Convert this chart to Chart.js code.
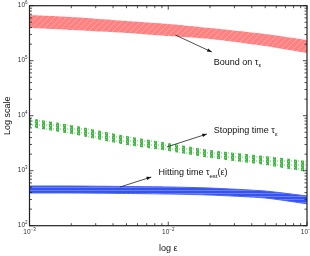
<!DOCTYPE html>
<html>
<head>
<meta charset="utf-8">
<script src="https://cdn.jsdelivr.net/npm/chart.js@4/dist/chart.umd.min.js"></script>
<style>
  body { margin: 0; background: #fff; }
  #caja { width: 310px; height: 256px; }
</style>
</head>
<body>
<div id="caja"><canvas id="grafica" width="310" height="256"></canvas></div>
<script>
// datos (eje x: epsilon, eje y: escala log)
const eps = [0.001, 0.002, 0.005, 0.01, 0.02, 0.05, 0.1];
const boundHi = [678000, 623000, 527000, 465000, 393000, 306000, 238000];
const boundLo = [393000, 361000, 319000, 281000, 248000, 185000, 138000];
const stopHi = [9080, 6780, 4270, 3190, 2380, 1850, 1500];
const stopLo = [6230, 4650, 2930, 2280, 1700, 1270, 947];
const hitHi = [527, 527, 516, 506, 484, 427, 347];
const hitLo = [393, 393, 385, 377, 361, 319, 250];

const xTicks = [-3, -2, -1];       // exponentes de 10
const yTicks = [2, 3, 4, 5, 6];

// anotaciones: flecha (desde, hasta) y texto, en coordenadas de datos
const notas = [
  { from: [0.01125, 293000], to: [0.0206, 144000], at: [0.0213, 94600], partes: [['Bound on τ', 0], ['ε', 1]] },
  { from: [0.00975, 2700], to: [0.0190, 4650], at: [0.0213, 5270], partes: [['Stopping time τ', 0], ['ε', 1]] },
  { from: [0.0045, 506], to: [0.00754, 767], at: [0.0085, 908], partes: [['Hitting time τ', 0], ['est', 1], ['(ε)', 0]] }
];

const fuente = "'Liberation Sans', Arial, sans-serif";

function patron(w, h, dibuja) {
  const c = document.createElement('canvas');
  c.width = w; c.height = h;
  const g = c.getContext('2d');
  dibuja(g);
  return g.createPattern(c, 'repeat');
}

const rojo = patron(6, 6, g => {
  g.fillStyle = '#ff8282'; g.fillRect(0, 0, 6, 6);
  g.strokeStyle = '#ffa4a4'; g.lineWidth = 1;
  g.beginPath(); g.moveTo(0, 6); g.lineTo(6, 0);
  g.moveTo(-3, 3); g.lineTo(3, -3); g.moveTo(3, 9); g.lineTo(9, 3); g.stroke();
});
const verde = patron(7, 4, g => {
  g.fillStyle = '#ffffff'; g.fillRect(0, 0, 7, 4);
  g.fillStyle = '#44b844'; g.fillRect(0, 0, 3, 4);
  g.fillStyle = '#86d486'; g.fillRect(1, 1, 1, 1); g.fillRect(0, 3, 1, 1);
  g.fillStyle = '#b0e4b0'; g.fillRect(4, 0, 1, 2);
});
const azul = patron(2, 3, g => {
  g.fillStyle = '#3652f2'; g.fillRect(0, 0, 2, 3);
  g.fillStyle = '#6a80f8'; g.fillRect(0, 1, 2, 1);
});

const puntos = arr => arr.map((v, i) => ({ x: eps[i], y: v }));
const nada = 'rgba(0,0,0,0)';

function banda(hi, lo, relleno, borde) {
  return [
    { data: puntos(hi), borderColor: borde, borderWidth: 1, pointRadius: 0, fill: false, tension: 0.2 },
    { data: puntos(lo), borderColor: borde, borderWidth: 1, pointRadius: 0, fill: '-1', backgroundColor: relleno, tension: 0.2 }
  ];
}

function potencia(g, exp, x, y, alinea) {
  const base = '10', sup = String(exp).replace('-', '−');
  g.font = '6.5px ' + fuente;
  const wb = g.measureText(base).width;
  g.font = '4.5px ' + fuente;
  const ws = g.measureText(sup).width;
  let x0 = alinea === 'right' ? x - wb - ws : x - (wb + ws) / 2;
  g.textAlign = 'left'; g.textBaseline = 'middle';
  g.font = '6.5px ' + fuente; g.fillText(base, x0, y);
  g.font = '4.5px ' + fuente; g.fillText(sup, x0 + wb, y - 3);
}

const marco = {
  id: 'marco',
  afterDraw(chart) {
    const g = chart.ctx, a = chart.chartArea;
    const sx = chart.scales.x, sy = chart.scales.y;
    g.save();
    g.strokeStyle = '#222'; g.lineWidth = 1.2;
    g.strokeRect(a.left, a.top, a.right - a.left, a.bottom - a.top);
    g.lineWidth = 0.8;
    g.beginPath();
    for (let d = -3; d <= -1; d++) {
      for (let k = 1; k <= 9; k++) {
        const v = k * Math.pow(10, d);
        if (v > 0.1 + 1e-9) continue;
        const px = sx.getPixelForValue(v), l = k === 1 ? 4 : 2.5;
        g.moveTo(px, a.bottom); g.lineTo(px, a.bottom - l);
        g.moveTo(px, a.top); g.lineTo(px, a.top + l);
      }
    }
    for (let d = 2; d <= 6; d++) {
      for (let k = 1; k <= 9; k++) {
        const v = k * Math.pow(10, d);
        if (v > 1e6 + 1) continue;
        const py = sy.getPixelForValue(v), l = k === 1 ? 4 : 2.5;
        g.moveTo(a.left, py); g.lineTo(a.left + l, py);
        g.moveTo(a.right, py); g.lineTo(a.right - l, py);
      }
    }
    g.stroke();

    g.fillStyle = '#333';
    xTicks.forEach(e => potencia(g, e, sx.getPixelForValue(Math.pow(10, e)), a.bottom + 7, 'center'));
    yTicks.forEach(e => potencia(g, e, a.left - 2, sy.getPixelForValue(Math.pow(10, e)), 'right'));

    // anotaciones
    g.fillStyle = '#111'; g.strokeStyle = '#222'; g.lineWidth = 0.8;
    notas.forEach(n => {
      const x1 = sx.getPixelForValue(n.from[0]), y1 = sy.getPixelForValue(n.from[1]);
      const x2 = sx.getPixelForValue(n.to[0]), y2 = sy.getPixelForValue(n.to[1]);
      g.beginPath(); g.moveTo(x1, y1); g.lineTo(x2, y2); g.stroke();
      const ang = Math.atan2(y2 - y1, x2 - x1);
      g.beginPath();
      g.moveTo(x2, y2);
      g.lineTo(x2 - 5 * Math.cos(ang - 0.35), y2 - 5 * Math.sin(ang - 0.35));
      g.lineTo(x2 - 5 * Math.cos(ang + 0.35), y2 - 5 * Math.sin(ang + 0.35));
      g.closePath(); g.fill();
      let tx = sx.getPixelForValue(n.at[0]);
      const ty = sy.getPixelForValue(n.at[1]);
      g.textAlign = 'left'; g.textBaseline = 'middle';
      n.partes.forEach(([t, sub]) => {
        g.font = (sub ? '6px ' : '9px ') + fuente;
        g.fillText(t, tx, sub ? ty + 3 : ty);
        tx += g.measureText(t).width;
      });
    });
    g.restore();
  }
};

new Chart(document.getElementById('grafica'), {
  type: 'line',
  data: {
    datasets: [
      ...banda(boundHi, boundLo, rojo, nada),
      ...banda(stopHi, stopLo, verde, nada),
      ...banda(hitHi, hitLo, azul, '#4a66f4')
    ]
  },
  options: {
    responsive: false,
    animation: false,
    layout: { padding: { top: 5.7, right: 3, left: 0, bottom: 0 } },
    plugins: { legend: { display: false }, tooltip: { enabled: false } },
    scales: {
      x: {
        type: 'logarithmic', min: 0.001, max: 0.1,
        grid: { display: false, drawTicks: false }, border: { display: false },
        ticks: { display: false },
        title: { display: true, text: 'log ε', color: '#111', font: { size: 9, family: fuente }, padding: { top: 0, bottom: 2 } },
        afterFit: s => { s.height = 30.3; }
      },
      y: {
        type: 'logarithmic', min: 100, max: 1000000,
        grid: { display: false, drawTicks: false }, border: { display: false },
        ticks: { display: false },
        title: { display: true, text: 'Log scale', color: '#111', font: { size: 9, family: fuente }, padding: { top: 2, bottom: 0 } },
        afterFit: s => { s.width = 29.5; }
      }
    }
  },
  plugins: [marco]
});
</script>
</body>
</html>
